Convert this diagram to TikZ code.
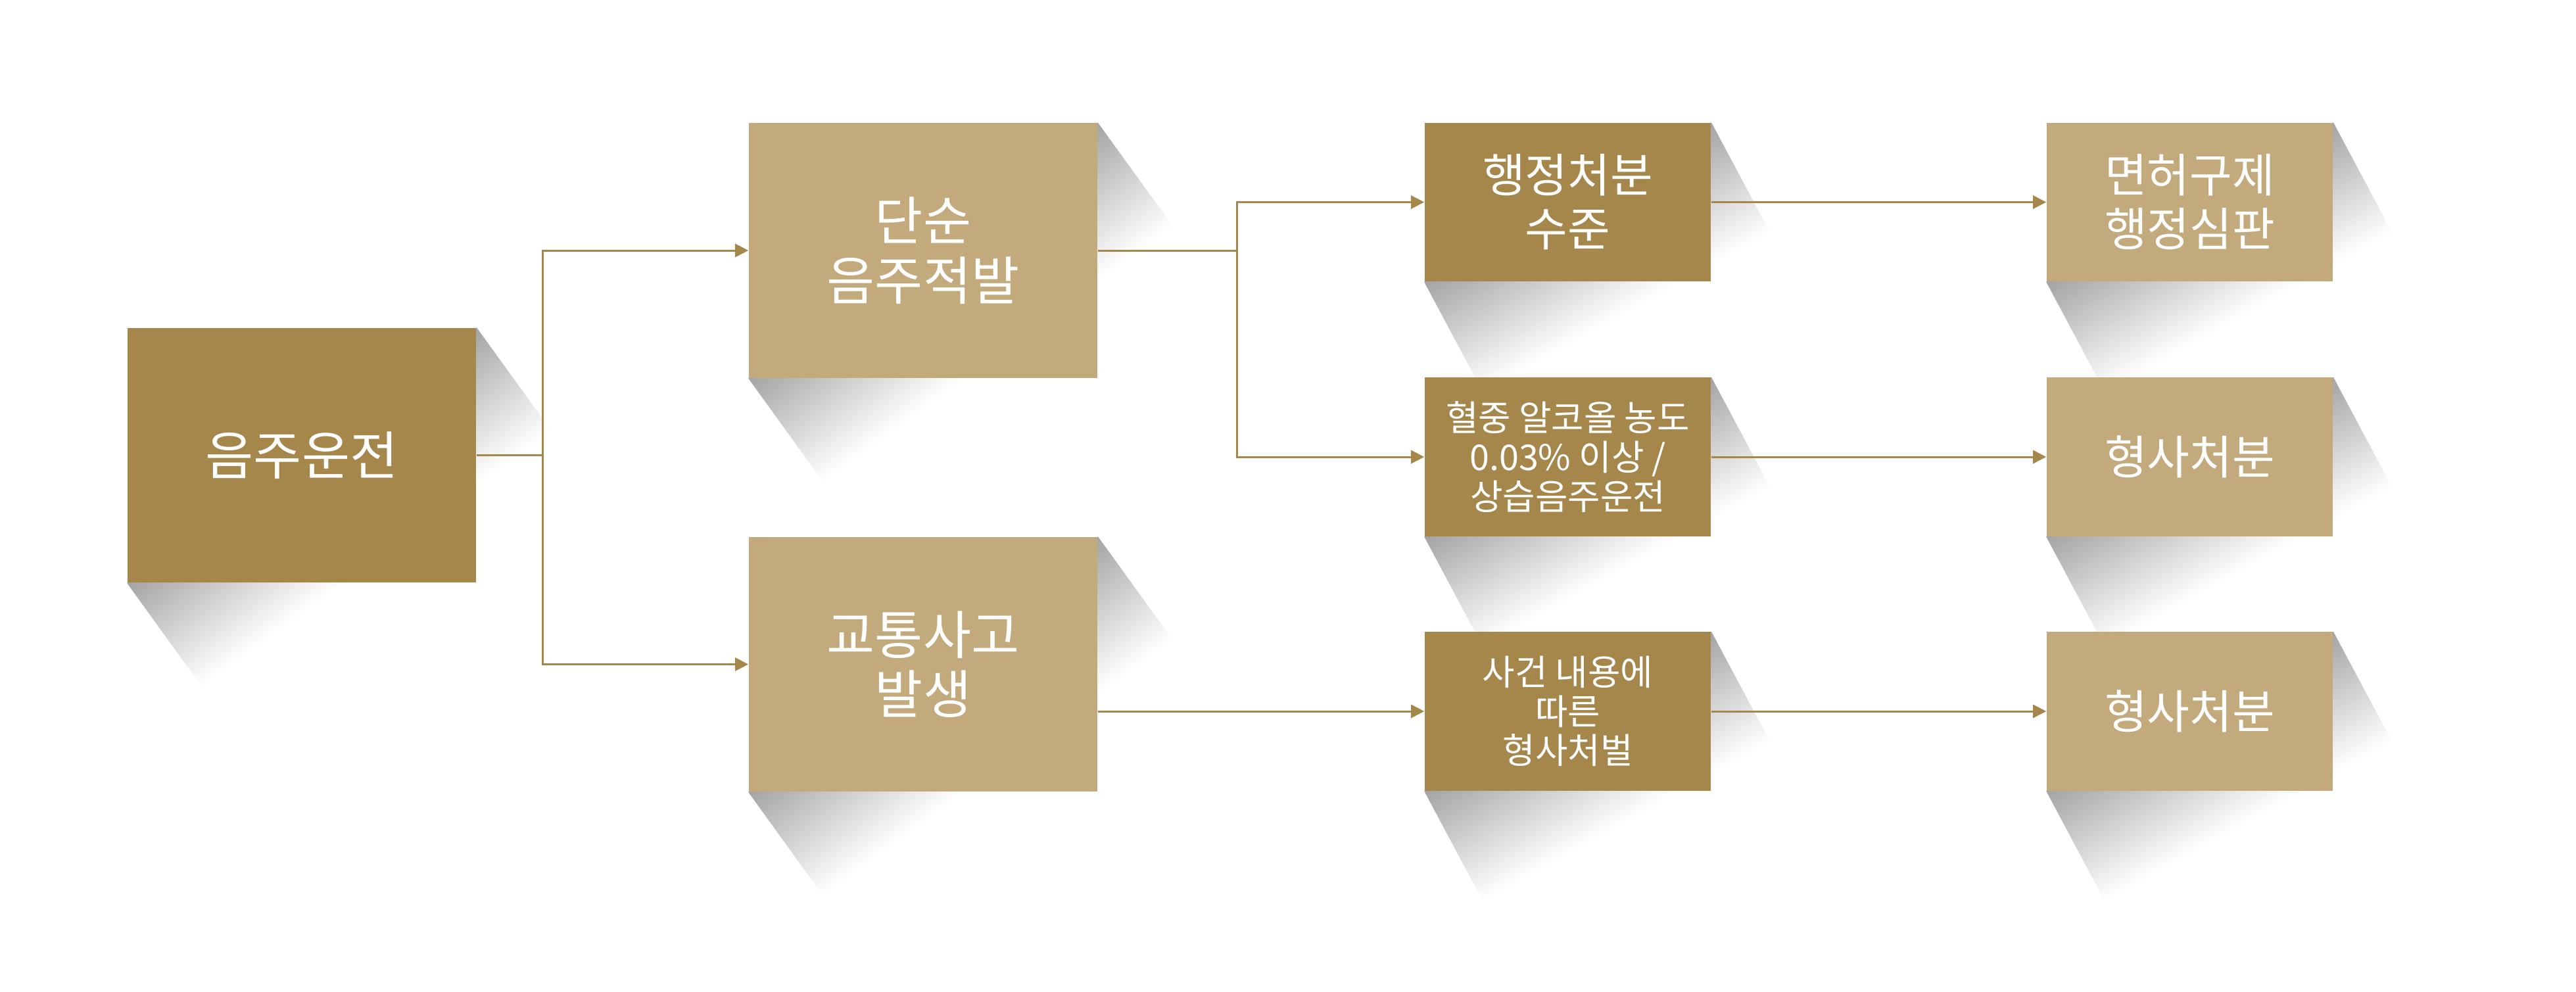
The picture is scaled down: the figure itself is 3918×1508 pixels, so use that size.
\documentclass[tikz,border=0pt]{standalone}
\usepackage{fontspec}
\newfontfamily\kr{Noto Sans CJK KR}
\usetikzlibrary{arrows.meta,calc}
\pgfdeclarelayer{shadowlayer}
\pgfdeclarelayer{linelayer}
\pgfsetlayers{shadowlayer,linelayer,main}
\definecolor{darkgold}{HTML}{A5864B}
\definecolor{lightgold}{HTML}{C3AA7D}
\definecolor{shadowgray}{HTML}{A4A4A4}
\tikzset{
  box/.style={draw=none, inner sep=0pt, text=white, align=center},
  bigbox/.style={box, minimum width=5.3cm, minimum height=3.87cm,
     font=\kr\fontsize{22.6pt}{25.8pt}\selectfont},
  smallbox/.style={box, minimum width=4.35cm, minimum height=2.41cm,
     font=\kr\fontsize{20pt}{23.3pt}\selectfont},
  tinytext/.style={font=\kr\fontsize{15.3pt}{17pt}\selectfont},
  darkfill/.style={fill=darkgold},
  lightfill/.style={fill=lightgold},
  conn/.style={draw=darkgold, line width=0.85pt},
  arr/.style={conn, -{Triangle[length=0.2cm,width=0.2cm]}},
}
\newcommand\longshadow[3]{%
  \begin{pgfonlayer}{shadowlayer}
  \foreach \k in {0,...,49}{%
    \pgfmathsetmacro\ta{\k/50}%
    \pgfmathsetmacro\tb{(\k+1.5)/50}%
    \pgfmathsetmacro\pc{100-\k*2}%
    \fill[shadowgray!\pc!white]
      ($(#1.south west)+\ta*(#2,#3)$) -- ($(#1.north east)+\ta*(#2,#3)$) --
      ($(#1.north east)+\tb*(#2,#3)$) -- ($(#1.south west)+\tb*(#2,#3)$) -- cycle;
  }
  \end{pgfonlayer}}
\begin{document}
\begin{tikzpicture}[x=0.01cm,y=-0.01cm]
\useasboundingbox (0,0) rectangle (3918,1508);

% boxes
\node[bigbox,darkfill] (A) at (459,692.5) {음주운전};
\node[bigbox,lightfill] (B) at (1404,381) {단순\\음주적발};
\node[bigbox,lightfill] (C) at (1404,1010.5) {교통사고\\발생};
\node[smallbox,darkfill] (D) at (2384.5,307.5) {행정처분\\수준};
\node[smallbox,darkfill,tinytext] (E) at (2384.5,695) {혈중 알코올 농도\\0.03\% 이상 /\\상습음주운전};
\node[smallbox,darkfill,tinytext] (F) at (2384.5,1082) {사건 내용에\\따른\\형사처벌};
\node[smallbox,lightfill] (G) at (3330.5,307.5) {면허구제\\행정심판};
\node[smallbox,lightfill] (H) at (3330.5,695) {형사처분};
\node[smallbox,lightfill] (I) at (3330.5,1082) {형사처분};

% long shadows
\longshadow{A}{112}{155}
\longshadow{B}{112}{155}
\longshadow{C}{112}{155}
\longshadow{D}{88}{165}
\longshadow{E}{88}{165}
\longshadow{F}{88}{165}
\longshadow{G}{88}{165}
\longshadow{H}{88}{165}
\longshadow{I}{88}{165}

% connectors
\coordinate (j1) at ($(A.east)+(101,0)$);
\coordinate (j2) at ($(B.east)+(212,0)$);
\begin{pgfonlayer}{linelayer}
\draw[conn] (A.east) -- (j1);
\draw[arr] (j1) |- (B.west);
\draw[arr] (j1) |- (C.west);
\draw[conn] (B.east) -- (j2);
\draw[arr] (j2) |- (D.west);
\draw[arr] (j2) |- (E.west);
\draw[arr] (C.east |- F.west) -- (F.west);
\draw[arr] (D.east) -- (G.west);
\draw[arr] (E.east) -- (H.west);
\draw[arr] (F.east) -- (I.west);
\end{pgfonlayer}
\end{tikzpicture}
\end{document}
